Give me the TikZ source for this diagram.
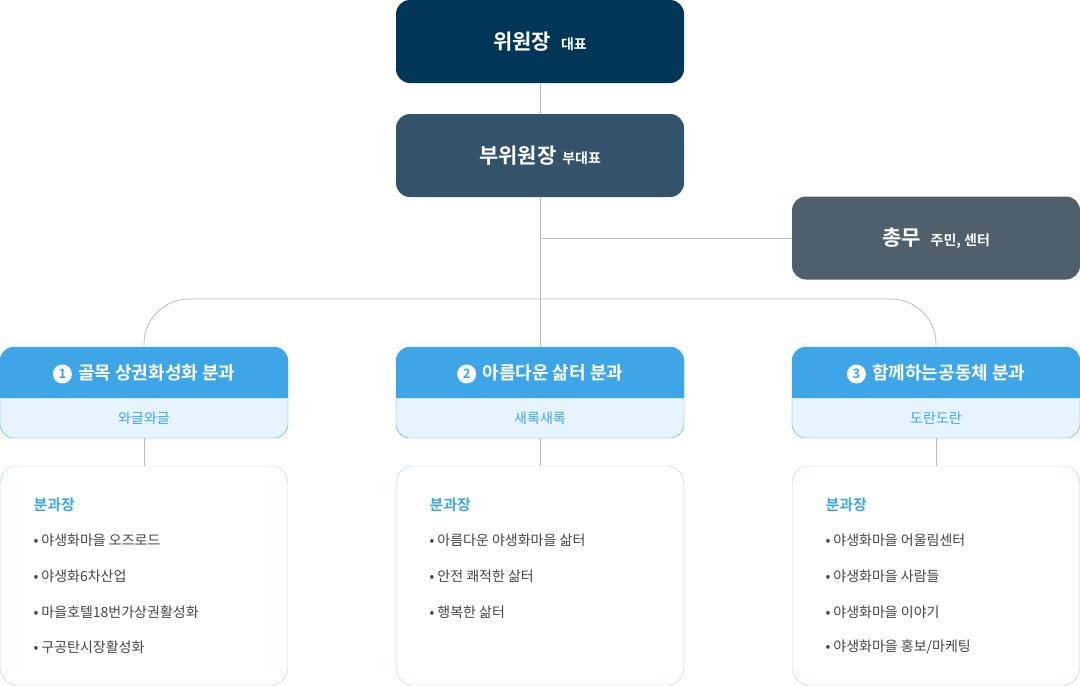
\documentclass[tikz,border=0pt]{standalone}
\usepackage{fontspec}
\setmainfont{Noto Sans CJK KR}
\newfontfamily\kb[FakeBold=0]{Noto Sans CJK KR Bold}
\definecolor{navy}{HTML}{023659}
\definecolor{slate}{HTML}{33536A}
\definecolor{grayb}{HTML}{4F5F6B}
\definecolor{sky}{HTML}{3EA5E6}
\definecolor{skyl}{HTML}{E8F4FD}
\definecolor{skyb}{HTML}{A9D3F0}
\definecolor{linec}{HTML}{BBBBBB}
\definecolor{txt}{HTML}{444444}
\tikzset{
 topbox/.style={rounded corners=14, minimum width=288pt, minimum height=83pt, text=white, inner sep=0},
 head/.style={minimum width=288pt, minimum height=91pt, inner sep=0},
 detail/.style={draw=skyb, rounded corners=16, minimum width=287pt, minimum height=219pt, inner sep=0},
 conn/.style={draw=linec, line width=0.8pt},
 bul/.style={anchor=west, text=txt, font=\fontsize{14}{14}\selectfont},
 chief/.style={anchor=west, text=sky, font=\kb\fontsize{15}{15}\selectfont},
}
\begin{document}
\begin{tikzpicture}[x=1pt,y=-1pt]
\useasboundingbox (0,0) rectangle (1080,686);
\node[topbox, fill=navy] (a) at (540,41.5) {\kb\fontsize{21}{21}\selectfont 위원장\hspace{10pt}\fontsize{14}{14}\selectfont 대표};
\node[topbox, fill=slate] (b) at (540,155.5) {\kb\fontsize{21}{21}\selectfont 부위원장\hspace{6pt}\fontsize{14}{14}\selectfont 부대표};
\node[topbox, fill=grayb] (c) at (936,238) {\kb\fontsize{21}{21}\selectfont 총무\hspace{10pt}\fontsize{14}{14}\selectfont 주민, 센터};
\coordinate (j) at (540,238);
\coordinate (m) at (540,299);
\foreach \i/\x/\t/\s in {1/144/골목 상권화성화 분과/와글와글, 2/540/아름다운 삶터 분과/새록새록, 3/936/함께하는공동체 분과/도란도란}{
  \pgfmathsetmacro\xl{\x-144}
  \pgfmathsetmacro\xr{\x+144}
  \fill[skyl,rounded corners=14] (\xl,347) rectangle (\xr,438);
  \fill[sky] (\xl,398) [rounded corners=14]-- (\xl,347) -- (\xr,347) [sharp corners]-- (\xr,398) -- cycle;
  \node[head, draw=sky, rounded corners=14] (h\i) at (\x,392.5) {};
  \node[text=white, font=\kb\fontsize{18}{18}\selectfont] at (\x,374) {\tikz[baseline=-5pt]{\fill[white] (0,0) circle (9.5pt); \node[text=sky,font=\kb\fontsize{13}{13}\selectfont] at (0,0) {\i};}\hspace{6pt}\t};
  \node[text=sky, font=\fontsize{14}{14}\selectfont] at (\x,418) {\s};
  \node[detail] (d\i) at (\x,575.5) {};
  \draw[conn] (h\i.south) -- (d\i.north);
}
\draw[conn] (a) -- (b);
\draw[conn] (b.south) -- (h2.north);
\draw[conn] (j) -- (c.west);
\draw[conn, rounded corners=45] (h1.north) |- (m) -| (h3.north);
\node[chief] at (30,505) {분과장};
\node[bul] at (30,540) {• 야생화마을 오즈로드};
\node[bul] at (30,576) {• 야생화6차산업};
\node[bul] at (30,612) {• 마을호텔18번가상권활성화};
\node[bul] at (30,647) {• 구공탄시장활성화};
\node[chief] at (426,505) {분과장};
\node[bul] at (426,540) {• 아름다운 야생화마을 삶터};
\node[bul] at (426,576) {• 안전 쾌적한 삶터};
\node[bul] at (426,612) {• 행복한 삶터};
\node[chief] at (822,505) {분과장};
\node[bul] at (822,540) {• 야생화마을 어울림센터};
\node[bul] at (822,576) {• 야생화마을 사람들};
\node[bul] at (822,612) {• 야생화마을 이야기};
\node[bul] at (822,647) {• 야생화마을 홍보/마케팅};
\end{tikzpicture}
\end{document}
